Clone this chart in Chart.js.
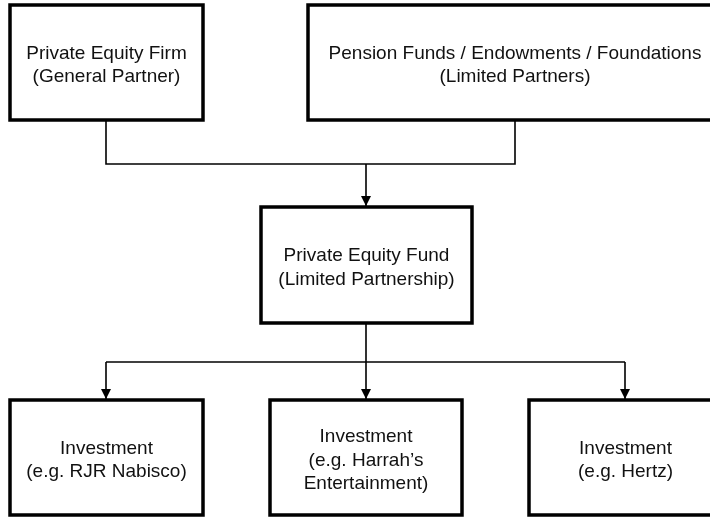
<!DOCTYPE html>
<html>
<head>
<meta charset="utf-8">
<script src="https://cdn.jsdelivr.net/npm/chart.js@4/dist/chart.umd.min.js"></script>
<style>
  html, body { margin: 0; padding: 0; background: #fff; }
  #wrap { width: 710px; height: 517px; }
</style>
</head>
<body>
<div id="wrap"><canvas id="chart" width="710" height="517"></canvas></div>
<script>
// NODES (diagram units, same range as the page)
const nodeLabels = [
  "Private Equity Firm\n(General Partner)",
  "Pension Funds / Endowments / Foundations\n(Limited Partners)",
  "Private Equity Fund\n(Limited Partnership)",
  "Investment\n(e.g. RJR Nabisco)",
  "Investment\n(e.g. Harrah\u2019s\nEntertainment)",
  "Investment\n(e.g. Hertz)"
];
const nodeLeft   = [10, 308, 261, 10, 270, 529];
const nodeRight  = [203, 722, 472, 203, 462, 722];
const nodeTop    = [5, 5, 207, 400, 400, 400];
const nodeBottom = [120, 120, 323, 515, 515, 515];

// CONNECTORS: polylines, last point of an "arrow" path gets an arrowhead
const connectorPaths = [
  [[106, 120], [106, 164], [515, 164], [515, 120]],
  [[366, 164], [366, 207]],
  [[366, 323], [366, 362]],
  [[106, 362], [625, 362]],
  [[106, 362], [106, 400]],
  [[366, 362], [366, 400]],
  [[625, 362], [625, 400]]
];
const arrowPaths = [1, 4, 5, 6];

// DATASETS
const boxSets = nodeLabels.map((_, i) => ({
  data: [
    { x: nodeLeft[i], y: nodeTop[i] },
    { x: nodeRight[i], y: nodeTop[i] },
    { x: nodeRight[i], y: nodeBottom[i] },
    { x: nodeLeft[i], y: nodeBottom[i] },
    { x: nodeLeft[i], y: nodeTop[i] }
  ],
  borderColor: "#000",
  borderWidth: 3.5,
  borderJoinStyle: "miter",
  borderCapStyle: "square",
  pointRadius: 0,
  tension: 0,
  fill: false
}));

const lineSets = connectorPaths.map(path => ({
  data: path.map(p => ({ x: p[0], y: p[1] })),
  borderColor: "#000",
  borderWidth: 1.6,
  borderJoinStyle: "miter",
  pointRadius: 0,
  tension: 0,
  fill: false
}));

// arrowheads + labels
const diagramPlugin = {
  id: "diagram",
  afterDatasetsDraw(chart) {
    const { ctx, scales: { x, y } } = chart;
    ctx.save();
    ctx.fillStyle = "#000";

    arrowPaths.forEach(k => {
      const tip = connectorPaths[k][connectorPaths[k].length - 1];
      const px = x.getPixelForValue(tip[0]);
      const py = y.getPixelForValue(tip[1]) - 1;
      ctx.beginPath();
      ctx.moveTo(px, py);
      ctx.lineTo(px - 5, py - 10);
      ctx.lineTo(px + 5, py - 10);
      ctx.closePath();
      ctx.fill();
    });

    ctx.font = '19px "Liberation Sans", Arial, sans-serif';
    ctx.fillStyle = "#111";
    ctx.textAlign = "center";
    ctx.textBaseline = "middle";
    nodeLabels.forEach((label, i) => {
      const lines = label.split("\n");
      const cx = x.getPixelForValue((nodeLeft[i] + nodeRight[i]) / 2);
      const cy = y.getPixelForValue((nodeTop[i] + nodeBottom[i]) / 2) + 3;
      const lh = 23.5;
      lines.forEach((t, j) => {
        ctx.fillText(t, cx, cy + (j - (lines.length - 1) / 2) * lh);
      });
    });
    ctx.restore();
  }
};

new Chart(document.getElementById("chart"), {
  type: "line",
  data: { datasets: [...lineSets, ...boxSets] },
  options: {
    responsive: false,
    animation: false,
    events: [],
    layout: { padding: 0 },
    plugins: { legend: { display: false }, tooltip: { enabled: false } },
    scales: {
      x: { type: "linear", min: 0, max: 710, display: false },
      y: { type: "linear", min: 0, max: 517, reverse: true, display: false }
    }
  },
  plugins: [diagramPlugin]
});
</script>
</body>
</html>
